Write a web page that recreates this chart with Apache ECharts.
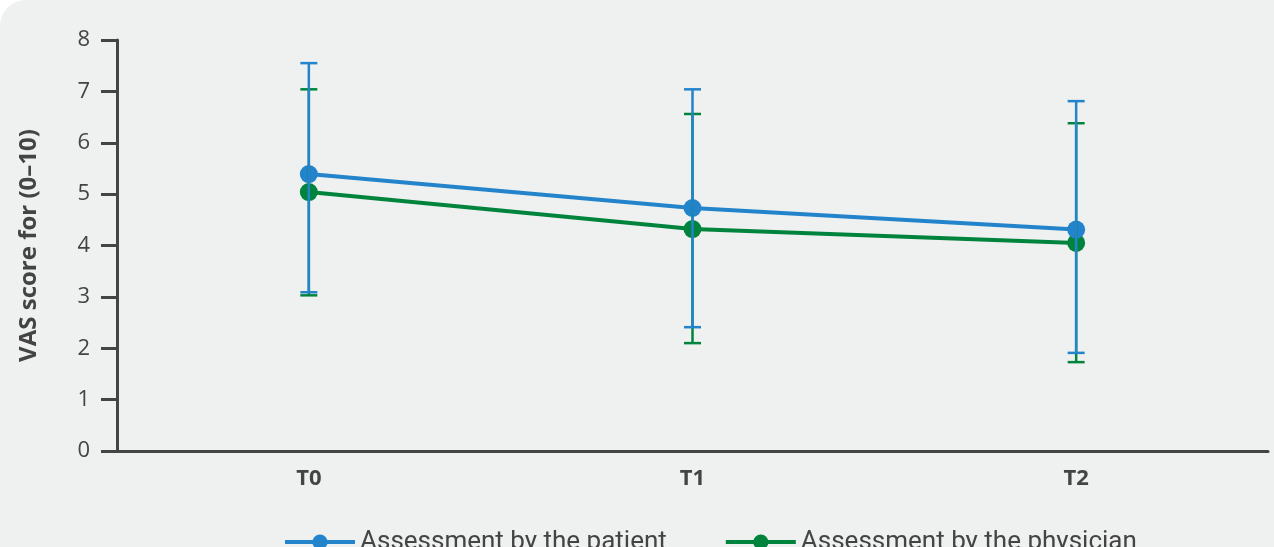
<!DOCTYPE html>
<html>
<head>
  <meta charset="utf-8">
  <script src="https://cdn.jsdelivr.net/npm/echarts@6/dist/echarts.min.js"></script>
  <style>
    html, body { margin: 0; padding: 0; background: #ffffff; }
    #chart { width: 1274px; height: 547px; background: #eff0f0; border-top-left-radius: 26px; }
  </style>
</head>
<body>
  <div id="chart"></div>
  <script>
    // time points
    const timePoints = ['T0', 'T1', 'T2'];
    // mean VAS and bar ends, patient
    const patientMean = [5.39, 4.73, 4.31];
    const patientLow = [3.09, 2.41, 1.91];
    const patientHigh = [7.55, 7.04, 6.81];
    // physician
    const physicianMean = [5.04, 4.32, 4.05];
    const physicianLow = [3.03, 2.10, 1.73];
    const physicianHigh = [7.04, 6.56, 6.38];

    const blue = '#2384cc';
    const green = '#00843d';

    function errBars(name, color, low, high, z) {
      return {
        type: 'custom',
        name: name + ' sd',
        z: z,
        silent: true,
        renderItem: function (params, api) {
          let x = api.value(0);
          let top = api.coord([x, api.value(2)]);
          let bot = api.coord([x, api.value(1)]);
          let hw = 8.5;
          let st = { stroke: color, lineWidth: 2.5 };
          return {
            type: 'group',
            children: [
              { type: 'line', shape: { x1: top[0], y1: top[1], x2: bot[0], y2: bot[1] }, style: st },
              { type: 'line', shape: { x1: top[0] - hw, y1: top[1], x2: top[0] + hw, y2: top[1] }, style: st },
              { type: 'line', shape: { x1: bot[0] - hw, y1: bot[1], x2: bot[0] + hw, y2: bot[1] }, style: st }
            ]
          };
        },
        encode: { x: 0, y: [1, 2] },
        data: timePoints.map((t, i) => [i, low[i], high[i]])
      };
    }

    let myChart = echarts.init(document.getElementById('chart'));
    let option = {
      animation: false,
      textStyle: { fontFamily: 'Open Sans' },
      grid: { left: 117, right: 6, top: 40, bottom: 96 },
      legend: {
        left: 278,
        top: 524,
        itemWidth: 70,
        itemHeight: 19,
        itemGap: 57,
        lineStyle: { width: 4 },
        data: ['Assessment by the patient', 'Assessment by the physician'],
        textStyle: { fontSize: 26, color: '#444', fontFamily: 'Roboto' }
      },
      xAxis: {
        type: 'category',
        data: timePoints,
        boundaryGap: true,
        axisLine: { lineStyle: { color: '#444', width: 3 } },
        axisTick: { length: 13, lineStyle: { color: '#444', width: 3 } },
        axisLabel: { fontSize: 22, fontWeight: 'bold', color: '#444', margin: 17 }
      },
      yAxis: {
        type: 'value',
        min: 0,
        max: 8,
        interval: 1,
        name: 'VAS score for (0–10)',
        nameLocation: 'middle',
        nameGap: 76,
        nameTextStyle: { fontSize: 24, fontWeight: 'bold', color: '#444' },
        splitLine: { show: false },
        axisLine: { show: true, lineStyle: { color: '#444', width: 3 } },
        axisTick: { show: true, length: 16, lineStyle: { color: '#444', width: 3 } },
        axisLabel: { fontSize: 22, color: '#444', margin: 27 }
      },
      series: [
        {
          name: 'Assessment by the physician',
          type: 'line',
          data: physicianMean,
          color: green,
          symbol: 'circle',
          symbolSize: 18,
          lineStyle: { width: 4 },
          z: 2
        },
        {
          name: 'Assessment by the patient',
          type: 'line',
          data: patientMean,
          color: blue,
          symbol: 'circle',
          symbolSize: 18,
          lineStyle: { width: 4 },
          z: 3
        },
        errBars('physician', green, physicianLow, physicianHigh, 4),
        errBars('patient', blue, patientLow, patientHigh, 5)
      ]
    };
    myChart.setOption(option);
  </script>
</body>
</html>
